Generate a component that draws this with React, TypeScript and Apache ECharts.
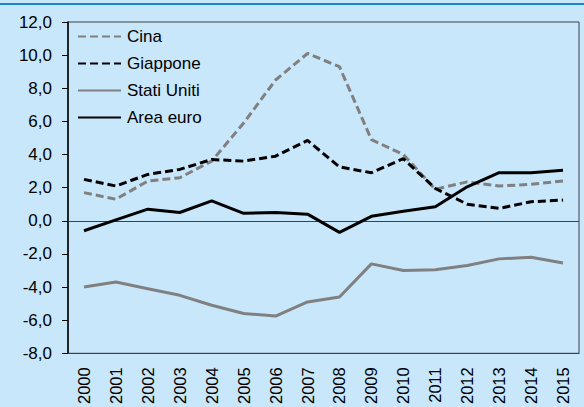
import React, { useEffect, useRef } from "react";
import * as echarts from "echarts";

const years = ["2000","2001","2002","2003","2004","2005","2006","2007","2008","2009","2010","2011","2012","2013","2014","2015"];
const cina = [1.7, 1.3, 2.4, 2.6, 3.6, 5.9, 8.5, 10.1, 9.3, 4.9, 4.0, 1.9, 2.35, 2.1, 2.2, 2.4];
const giappone = [2.5, 2.1, 2.8, 3.1, 3.7, 3.6, 3.9, 4.85, 3.25, 2.9, 3.75, 1.95, 1.0, 0.75, 1.15, 1.25];
const statiUniti = [-4.0, -3.7, -4.1, -4.5, -5.1, -5.6, -5.75, -4.9, -4.6, -2.6, -3.0, -2.95, -2.7, -2.3, -2.2, -2.55];
const areaEuro = [-0.6, 0.05, 0.7, 0.5, 1.2, 0.45, 0.5, 0.4, -0.7, 0.27, 0.58, 0.85, 2.05, 2.9, 2.9, 3.05];

export default function App() {
  const ref = useRef<HTMLDivElement>(null);
  useEffect(() => {
    document.body.style.margin = "0";
    const chart = echarts.init(ref.current!, null, { renderer: "svg" });
    const font = "'Liberation Sans', Arial, sans-serif";
    const mk = (name: string, data: number[], color: string, dashed: boolean, extra: any = {}) => ({
      name,
      type: "line",
      data,
      symbol: "none",
      lineStyle: { color, width: 3, type: dashed ? [8, 4] : "solid" },
      itemStyle: { color },
      z: 3,
      ...extra,
    });
    chart.setOption({
      animation: false,
      backgroundColor: "#c8e7fb",
      textStyle: { fontFamily: font },
      graphic: [
        { type: "rect", shape: { x: 0, y: 3, width: 584, height: 2 }, style: { fill: "#1a86cc" } },
      ],
      grid: { left: 68, top: 22, right: 5, bottom: 52, show: true, borderColor: "#404040", borderWidth: 1, backgroundColor: "transparent" },
      legend: {
        orient: "vertical",
        left: 77,
        top: 28,
        padding: 0,
        itemWidth: 43,
        itemHeight: 14,
        itemGap: 10,
        itemStyle: { opacity: 0, borderWidth: 0 },
        textStyle: { fontSize: 17, color: "#000", fontFamily: font, padding: [0, 0, 0, 1] },
        data: ["Cina", "Giappone", "Stati Uniti", "Area euro"],
      },
      xAxis: {
        type: "category",
        data: years,
        boundaryGap: true,
        axisLine: { onZero: false, lineStyle: { color: "#404040", width: 1 } },
        axisTick: { show: false },
        axisLabel: { rotate: 90, fontSize: 16.5, color: "#000", margin: 14, fontFamily: font },
      },
      yAxis: {
        type: "value",
        min: -8,
        max: 12,
        interval: 2,
        axisLine: { show: true, lineStyle: { color: "#000", width: 1.5 } },
        axisTick: { show: true, length: 6, lineStyle: { color: "#000" } },
        splitLine: { show: false },
        axisLabel: { fontSize: 17, color: "#000", margin: 16, fontFamily: font, formatter: (v: number) => v.toFixed(1).replace(".", ",") },
      },
      series: [
        mk("Cina", cina, "#808080", true),
        mk("Giappone", giappone, "#000000", true),
        mk("Stati Uniti", statiUniti, "#808080", false, {
          markLine: {
            silent: true,
            symbol: "none",
            label: { show: false },
            lineStyle: { color: "#404040", width: 1, type: "solid" },
            data: [{ yAxis: 0 }],
            z: 1,
          },
        }),
        mk("Area euro", areaEuro, "#000000", false),
      ],
    });
    return () => chart.dispose();
  }, []);
  return <div ref={ref} style={{ width: 584, height: 407 }} />;
}
